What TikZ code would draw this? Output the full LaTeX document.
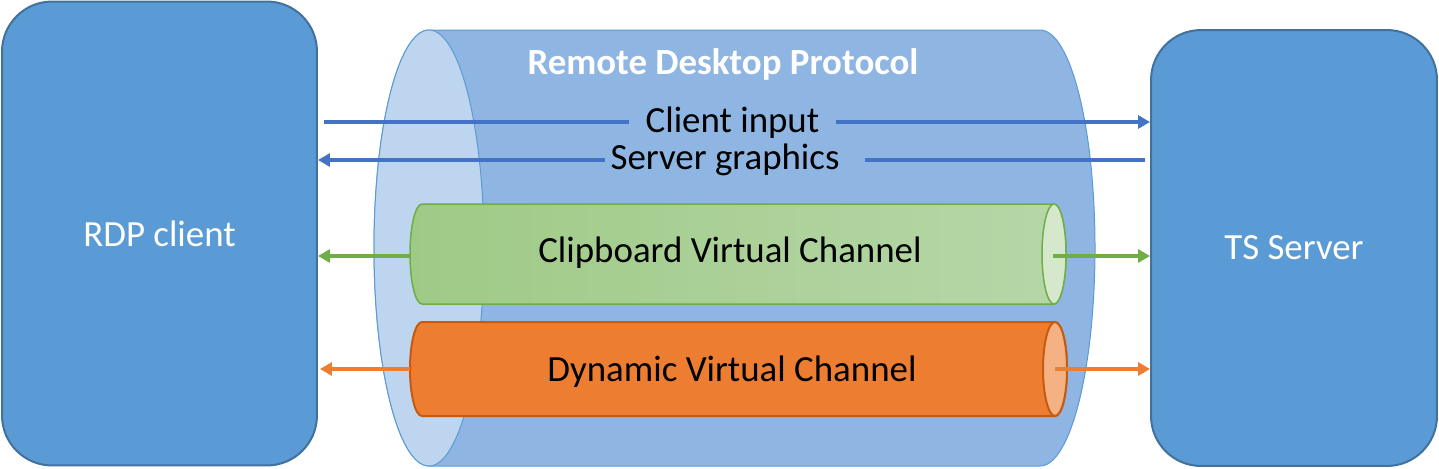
\documentclass[tikz,border=0pt]{standalone}
\usepackage{fontspec}
\setmainfont{Carlito}
\usetikzlibrary{positioning,arrows.meta,calc}
\definecolor{boxblue}{HTML}{5B9BD5}
\definecolor{boxedge}{HTML}{41719C}
\definecolor{pipeblue}{HTML}{8FB5E3}
\definecolor{pipecap}{HTML}{BDD5EE}
\definecolor{pipeedge}{HTML}{5B9BD5}
\definecolor{flowblue}{HTML}{4472C4}
\definecolor{clipedge}{HTML}{70AD47}
\definecolor{clipleft}{HTML}{9FCA86}
\definecolor{clipright}{HTML}{B6D7A9}
\definecolor{clipcap}{HTML}{D5E8CC}
\definecolor{dynfill}{HTML}{ED7D31}
\definecolor{dynedge}{HTML}{C55A11}
\definecolor{dyncap}{HTML}{F4B183}

\begin{document}
\begin{tikzpicture}[x=0.02cm,y=0.02cm,
  box/.style={draw=boxedge,line width=0.04cm,fill=boxblue,rounded corners=1cm,
    text=white,font=\fontsize{21}{25}\selectfont},
  lbl/.style={font=\fontsize{21}{25}\selectfont,inner ysep=0pt},
  wire/.style={line width=0.08cm},
  flow/.style={wire,-{Triangle[length=0.24cm,width=0.26cm]}}]
\useasboundingbox (0,0) rectangle (1439,468);
% end points
\node[box,minimum width=6.3cm,minimum height=9.28cm] (client) at (159.5,234.5) {RDP client};
\node[box,minimum width=5.72cm,minimum height=8.72cm] (server) at (1294,220) {TS Server};
% protocol pipe
\draw[pipeedge,line width=0.02cm,fill=pipeblue] (429,438) -- (1040,438)
  arc[start angle=90,end angle=-90,x radius=55,y radius=218] -- (429,2)
  arc[start angle=270,end angle=90,x radius=55,y radius=218] -- cycle;
\draw[pipeedge,line width=0.02cm,fill=pipecap] (429,220) ellipse[x radius=55,y radius=218];
\node[lbl,text=white,font=\bfseries\fontsize{21}{25}\selectfont] (rdp) at (723,404) {Remote Desktop Protocol};
% clipboard channel
\draw[clipedge,line width=0.03cm,left color=clipleft,right color=clipright] (422,264) -- (1054,264)
  arc[start angle=90,end angle=-90,x radius=12,y radius=50] -- (422,164)
  arc[start angle=270,end angle=90,x radius=12,y radius=50] -- cycle;
\draw[clipedge,line width=0.03cm,fill=clipcap] (1054,214) ellipse[x radius=12,y radius=50];
\node[lbl] (clip) at (730,215.5) {Clipboard Virtual Channel};
% dynamic channel
\draw[dynedge,line width=0.04cm,fill=dynfill] (422,146) -- (1055,146)
  arc[start angle=90,end angle=-90,x radius=12,y radius=47] -- (422,52)
  arc[start angle=270,end angle=90,x radius=12,y radius=47] -- cycle;
\draw[dynedge,line width=0.04cm,fill=dyncap] (1055,99) ellipse[x radius=12,y radius=47];
\node[lbl] (dyn) at (732,96) {Dynamic Virtual Channel};
% client input / server graphics
\node[lbl,inner xsep=0.32cm] (ci) at (732.5,345.5) {Client input};
\node[lbl,inner xsep=0.1cm] (sg) at (725,308) {Server graphics};
\coordinate (ci-from) at (324,346);
\coordinate (sg-from) at (1145,308);
\draw[wire,flowblue] (ci-from) -- (ci.west |- ci-from);
\draw[flow,flowblue] (ci.east |- ci-from) -- (server.west |- ci-from);
\draw[wire,flowblue] (sg-from) -- ($(sg.east |- sg-from)+(20,0)$);
\draw[flow,flowblue] (sg.west |- sg-from) -- (client.east |- sg-from);
% channel flows
\coordinate (clip-in) at (410,212);
\coordinate (clip-out) at (1053,212);
\coordinate (dyn-in) at (410,99);
\coordinate (dyn-out) at (1055,99);
\draw[flow,clipedge] (clip-in) -- (client.east |- clip-in);
\draw[flow,clipedge] (clip-out) -- (server.west |- clip-out);
\draw[flow,dynfill,line width=0.065cm] (dyn-in) -- ([xshift=0.04cm]client.east |- dyn-in);
\draw[flow,dynfill,line width=0.065cm] (dyn-out) -- (server.west |- dyn-out);
\end{tikzpicture}
\end{document}
